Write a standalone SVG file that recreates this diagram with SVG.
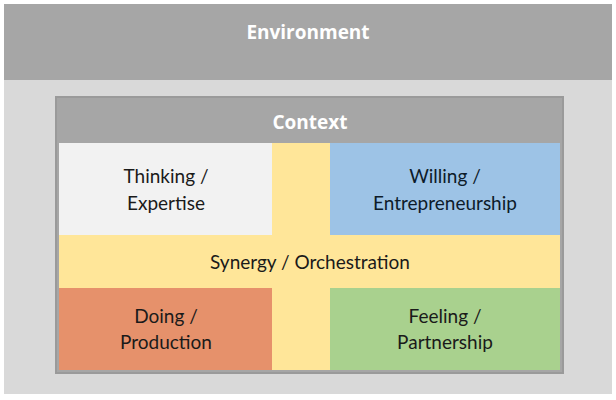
<svg xmlns="http://www.w3.org/2000/svg" width="616" height="400" viewBox="0 0 616 400">
<style>
.lbl{font-family:Lato,"Open Sans","Liberation Sans",sans-serif;font-size:19px;fill:#1a1a1a;text-anchor:middle}
.hdr{font-family:"Open Sans",Lato,"Liberation Sans",sans-serif;font-size:19px;font-weight:bold;fill:#ffffff;text-anchor:middle}
</style>
<rect width="616" height="400" fill="#ffffff"/>
<g id="environment">
<rect x="4" y="4" width="608" height="390" fill="#d9d9d9"/>
<rect x="4" y="4" width="608" height="76" fill="#a6a6a6"/>
<text class="hdr" x="308" y="39">Environment</text>
</g>
<g id="context">
<rect x="56" y="97" width="507" height="276" fill="#a6a6a6" stroke="#9a9a9a" stroke-width="2"/>
<text class="hdr" x="310" y="129">Context</text>
</g>
<g id="synergy">
<rect x="59" y="143" width="501" height="227" fill="#ffe699"/>
<text class="lbl" x="310" y="269">Synergy / Orchestration</text>
</g>
<g id="thinking">
<rect x="59" y="143" width="213" height="92" fill="#f2f2f2"/>
<text class="lbl" x="166" y="183">Thinking /</text>
<text class="lbl" x="166" y="210">Expertise</text>
</g>
<g id="willing">
<rect x="330" y="143" width="230" height="92" fill="#9dc3e6"/>
<text class="lbl" x="445" y="183" style="fill:#0d1b2a">Willing /</text>
<text class="lbl" x="445" y="210" style="fill:#0d1b2a">Entrepreneurship</text>
</g>
<g id="doing">
<rect x="59" y="288" width="213" height="82" fill="#e6916b"/>
<text class="lbl" x="166" y="323">Doing /</text>
<text class="lbl" x="166" y="349">Production</text>
</g>
<g id="feeling">
<rect x="330" y="288" width="230" height="82" fill="#a9d18e"/>
<text class="lbl" x="445" y="323">Feeling /</text>
<text class="lbl" x="445" y="349">Partnership</text>
</g>
<g id="connectors"/>
</svg>
